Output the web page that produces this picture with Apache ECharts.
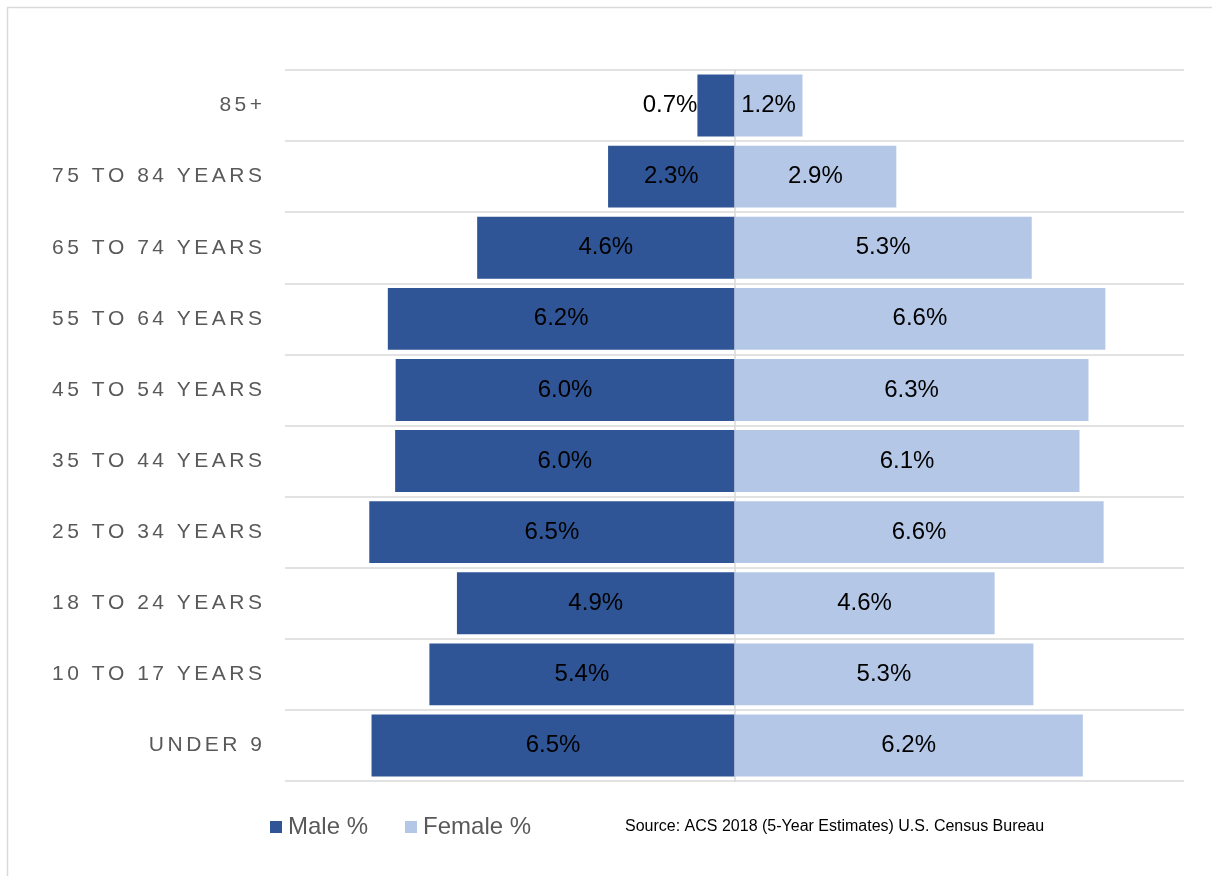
<!DOCTYPE html>
<html>
<head>
<meta charset="utf-8">
<script src="https://cdn.jsdelivr.net/npm/echarts@6/dist/echarts.min.js"></script>
<style>
html,body{margin:0;padding:0;background:#fff;}
#chart{width:1212px;height:876px;}
</style>
</head>
<body>
<div id="chart"></div>
<script>
// Data (bottom to top)
var categories = ['Under 9', '10 to 17 years', '18 to 24 years', '25 to 34 years', '35 to 44 years',
  '45 to 54 years', '55 to 64 years', '65 to 74 years', '75 to 84 years', '85+'];
var maleValues = [6.46, 5.43, 4.94, 6.5, 6.04, 6.03, 6.17, 4.58, 2.25, 0.66];
var femaleValues = [6.2, 5.32, 4.63, 6.57, 6.14, 6.3, 6.6, 5.29, 2.88, 1.21];
var seriesNames = ['Male %', 'Female %'];
var sourceText = 'Source: ACS 2018 (5-Year Estimates) U.S. Census Bureau';

function spaced(s) {
  return s.toUpperCase().split('').join('\u2006');
}

var chart = echarts.init(document.getElementById('chart'), null, {renderer: 'canvas'});
var labelFont = {fontFamily: 'Liberation Sans, Arial, sans-serif', fontSize: 24, color: '#000', padding: [3, 0, 0, 0]};

var option = {
  animation: false,
  backgroundColor: '#fff',
  grid: {left: 285, right: 28, top: 70, bottom: 95, containLabel: false},
  xAxis: {
    type: 'value', min: -8, max: 8, show: false
  },
  yAxis: {
    type: 'category',
    data: categories,
    axisLine: {show: true, onZero: true, lineStyle: {color: '#d9d9d9', width: 1.5}},
    axisTick: {show: false},
    splitLine: {show: true, lineStyle: {color: '#d9d9d9', width: 1.5}},
    axisLabel: {
      margin: 23,
      color: '#595959',
      fontFamily: 'Liberation Sans, Arial, sans-serif',
      fontSize: 21,
      padding: [3, 0, 0, 0],
      formatter: function (v) { return spaced(v); }
    }
  },
  legend: {
    left: 270, top: 815, padding: 0,
    icon: 'rect', itemWidth: 12, itemHeight: 12, itemGap: 37,
    textStyle: {color: '#595959', fontSize: 24, fontFamily: 'Liberation Sans, Arial, sans-serif', padding: [0, 0, 0, 1]},
    data: seriesNames
  },
  series: [
    {
      name: seriesNames[0], type: 'bar', barGap: '-100%', barCategoryGap: '13%',
      itemStyle: {color: '#2F5597'},
      data: maleValues.map(function (v, i) {
        var d = {value: -v};
        if (v < 1.5) d.label = {position: 'left', distance: 0};
        return d;
      }),
      label: Object.assign({show: true, position: 'inside', formatter: function (p) { return Math.abs(p.value).toFixed(1) + '%'; }}, labelFont)
    },
    {
      name: seriesNames[1], type: 'bar', barGap: '-100%', barCategoryGap: '13%',
      itemStyle: {color: '#B4C7E7'},
      data: femaleValues,
      label: Object.assign({show: true, position: 'inside', formatter: function (p) { return p.value.toFixed(1) + '%'; }}, labelFont)
    }
  ],
  graphic: [
    {type: 'rect', left: 5, top: 5, shape: {width: 1220, height: 890}, style: {fill: 'none', stroke: '#d9d9d9', lineWidth: 1.5}, silent: true},
    {type: 'text', left: 625, top: 819, style: {text: sourceText, fontSize: 16, fill: '#000', fontFamily: 'Liberation Sans, Arial, sans-serif'}}
  ]
};
chart.setOption(option);
</script>
</body>
</html>
